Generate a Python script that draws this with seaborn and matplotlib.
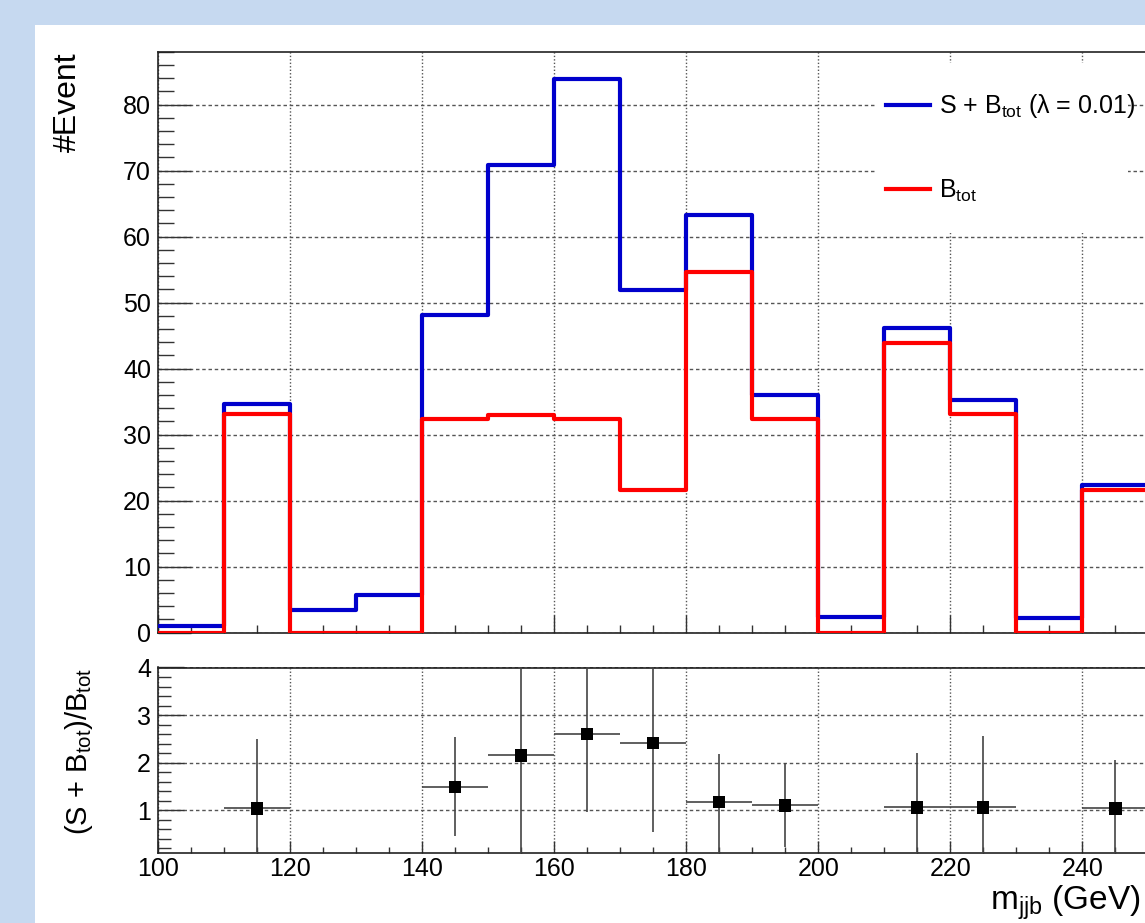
import numpy as np
import matplotlib.pyplot as plt
import seaborn as sns
from matplotlib.patches import Rectangle
from matplotlib.ticker import MultipleLocator

# Data
bin_edges = [100, 110, 120, 130, 140, 150, 160, 170, 180, 190, 200, 210, 220, 230, 240, 250]
bin_centers = [105, 115, 125, 135, 145, 155, 165, 175, 185, 195, 205, 215, 225, 235, 245]
s_plus_b = [1.0, 34.6, 3.5, 5.7, 48.1, 70.9, 83.8, 51.9, 63.3, 36.0, 2.4, 46.2, 35.2, 2.3, 22.3]
b_tot = [0.0, 33.1, 0.0, 0.0, 32.4, 33.0, 32.4, 21.6, 54.6, 32.4, 0.0, 43.9, 33.1, 0.0, 21.6]

ratio_x = [115, 145, 155, 165, 175, 185, 195, 215, 225, 245]
ratio_y = [1.04, 1.49, 2.15, 2.60, 2.41, 1.17, 1.10, 1.06, 1.06, 1.04]
ratio_lo = [0.0, 0.45, 0.0, 0.97, 0.55, 0.0, 0.22, 0.0, 0.0, 0.0]
ratio_hi = [2.50, 2.54, 4.5, 4.5, 4.5, 2.19, 2.00, 2.21, 2.55, 2.05]

plt.rcParams['font.family'] = ['Liberation Sans', 'DejaVu Sans']
plt.rcParams['mathtext.fontset'] = 'custom'
plt.rcParams['mathtext.rm'] = 'Liberation Sans'
plt.rcParams['mathtext.default'] = 'regular'

W, H = 1145, 923
fig = plt.figure(figsize=(W / 100, H / 100), dpi=100, facecolor='#c6d9f0')
fig.add_artist(Rectangle((35 / W, 0), 1, 1 - 25 / H, transform=fig.transFigure,
                         facecolor='white', edgecolor='none', zorder=0))

left = 158 / W
ax = fig.add_axes([left, 1 - 632.7 / H, 1 - left, (632.7 - 51.7) / H])
axr = fig.add_axes([left, 1 - 853 / H, 1 - left, (853 - 667.5) / H])

blue = '#0000cc'
red = '#ff0000'

# Top panel: step histograms
sns.histplot(x=bin_centers, weights=s_plus_b, bins=bin_edges, element='step', fill=False,
             color=blue, linewidth=3, ax=ax, zorder=3)
sns.histplot(x=bin_centers, weights=b_tot, bins=bin_edges, element='step', fill=False,
             color=red, linewidth=3, ax=ax, zorder=4)

# Bottom panel: ratio with error bars
yerr = [np.array(ratio_y) - np.array(ratio_lo), np.array(ratio_hi) - np.array(ratio_y)]
axr.errorbar(ratio_x, ratio_y, yerr=yerr, xerr=5, fmt='none', ecolor='#444444',
             elinewidth=1.2, capsize=0, zorder=3)
sns.scatterplot(x=ratio_x, y=ratio_y, marker='s', color='black', s=80,
                edgecolor='none', ax=axr, zorder=4)

grid_kw = dict(color='#555555', linewidth=1.0)
for a in (ax, axr):
    a.set_xlim(100, 249.5)
    a.set_xlabel('')
    a.set_ylabel('')
    a.spines['right'].set_visible(False)
    for s in ('left', 'bottom', 'top'):
        a.spines[s].set_color('#222222')
        a.spines[s].set_linewidth(1.2)
    a.xaxis.set_major_locator(MultipleLocator(20))
    a.xaxis.set_minor_locator(MultipleLocator(5))
    a.set_axisbelow(True)
    a.xaxis.grid(True, which='major', linestyle=(0, (1, 1.5)), **grid_kw)
    a.yaxis.grid(True, which='major', linestyle=(0, (2.5, 2)), **grid_kw)

ax.set_ylim(0, 88)
ax.yaxis.set_major_locator(MultipleLocator(10))
ax.yaxis.set_minor_locator(MultipleLocator(2))
ax.tick_params(axis='y', which='major', direction='in', length=24, width=1, color='#333333',
               labelsize=18, pad=5)
ax.tick_params(axis='y', which='minor', direction='in', length=11.5, width=1, color='#333333')
ax.tick_params(axis='x', which='major', direction='in', length=13, width=1, color='#333333',
               labelbottom=False)
ax.tick_params(axis='x', which='minor', direction='in', length=6, width=1, color='#333333')

axr.set_ylim(0.1, 4.0)
axr.yaxis.set_major_locator(MultipleLocator(1))
axr.yaxis.set_minor_locator(MultipleLocator(0.2))
axr.tick_params(axis='y', which='major', direction='in', length=19, width=1, color='#333333',
                labelsize=18, pad=5)
axr.tick_params(axis='y', which='minor', direction='in', length=9.5, width=1, color='#333333')
axr.tick_params(axis='x', which='major', direction='in', length=9, width=1, color='#333333',
                labelsize=18, pad=3)
axr.tick_params(axis='x', which='minor', direction='in', length=4.5, width=1, color='#333333')

# Legend with a white box that hides the grid behind it
ax.add_patch(Rectangle((0.7264, 0.688), 0.2565, 0.293, transform=ax.transAxes,
                       facecolor='white', edgecolor='none', zorder=5))
handles = [plt.Line2D([], [], color=blue, linewidth=3),
           plt.Line2D([], [], color=red, linewidth=3)]
labels = [r'S + B$_{tot}$ (λ = 0.01)', r'B$_{tot}$']
leg = ax.legend(handles, labels, loc='upper left', bbox_to_anchor=(0.7376, 0.93),
                frameon=False, fontsize=18, handlelength=1.75, handletextpad=0.35,
                labelspacing=2.3, borderpad=0, borderaxespad=0)
leg.set_zorder(6)

# Axis titles
fig.text(68 / W, 1 - 52 / H, '#Event', rotation=90, ha='center', va='top', fontsize=23)
fig.text(79 / W, 1 - 668 / H, r'(S + B$_{tot}$)/B$_{tot}$', rotation=90, ha='center',
         va='top', fontsize=21)
fig.text(1141 / W, 1 - 910 / H, r'm$_{jjb}$ (GeV)', ha='right', va='baseline', fontsize=24)

plt.savefig('out.png', dpi=100, facecolor=fig.get_facecolor())
